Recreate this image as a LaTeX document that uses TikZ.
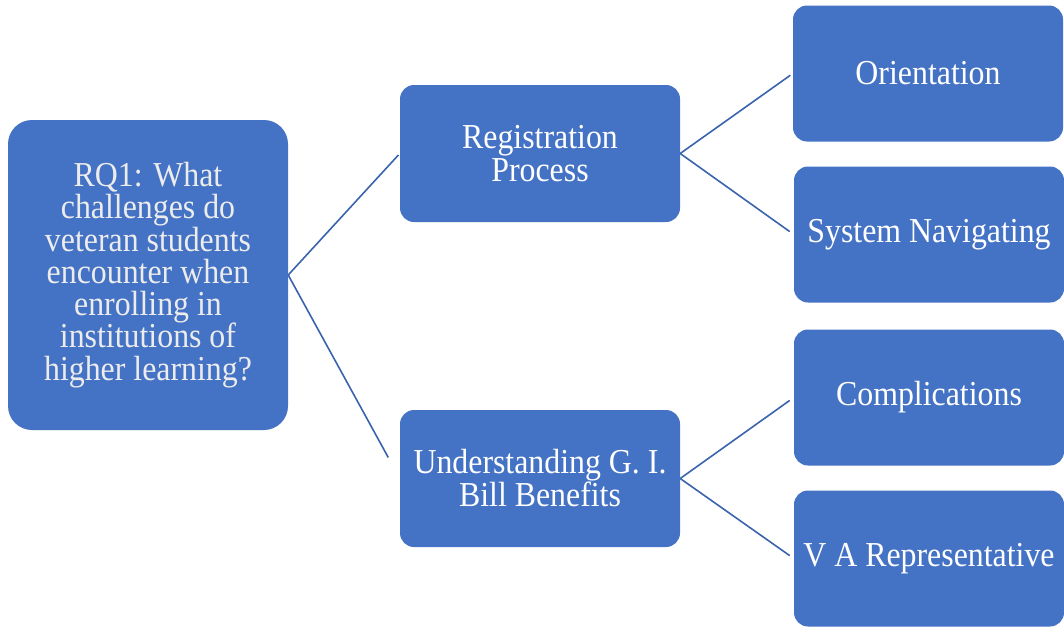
\documentclass[tikz,border=0pt]{standalone}
\usepackage{fontspec}
\setmainfont{Liberation Serif}[FakeStretch=0.91]
\usepackage{tikz}

\definecolor{boxblue}{HTML}{4472C4}
\definecolor{lineblue}{HTML}{3A63AD}
\definecolor{textgray}{HTML}{ECECEC}

\tikzset{
    box/.style={fill=boxblue, rounded corners=14pt, text=white, align=center,
        inner sep=0pt, minimum width=280pt, minimum height=137pt,
        font=\fontsize{35}{33}\selectfont},
    leaf/.style={box, minimum width=270pt, minimum height=136pt},
    link/.style={draw=lineblue, line width=1.6pt}
}

\begin{document}
\begin{tikzpicture}[x=1pt, y=-1pt]
        \useasboundingbox (0,0) rectangle (1064,627);

        \node[box, minimum height=310pt, rounded corners=24pt, text=textgray,
            font=\fontsize{35}{32.3}\selectfont] (rq) at (148,275)
            {RQ1: What\\challenges do\\veteran students\\encounter when\\enrolling in\\institutions of\\higher learning?};

        \node[box] (reg) at (540,153.5) {Registration\\Process};
        \node[box] (gib) at (540,478.5) {Understanding G. I.\\Bill Benefits};

        \node[leaf] (orient) at (928,73.5) {Orientation};
        \node[leaf] (sysnav) at (929,234.5) {System Navigating};
        \node[leaf] (compl) at (929,397.5) {Complications};
        \node[leaf] (varep) at (929,558.5) {V A Representative};

        \draw[link, shorten >=2pt] (rq.east) -- (reg.west);
        \draw[link, shorten >=24pt] (rq.east) -- (gib.west);

        \draw[link, shorten >=3pt] (reg.east) -- (orient.west);
        \draw[link, shorten >=5pt] (reg.east) -- (sysnav.west);
        \draw[link, shorten >=5pt] (gib.east) -- (compl.west);
        \draw[link, shorten >=5pt] (gib.east) -- (varep.west);
\end{tikzpicture}
\end{document}
